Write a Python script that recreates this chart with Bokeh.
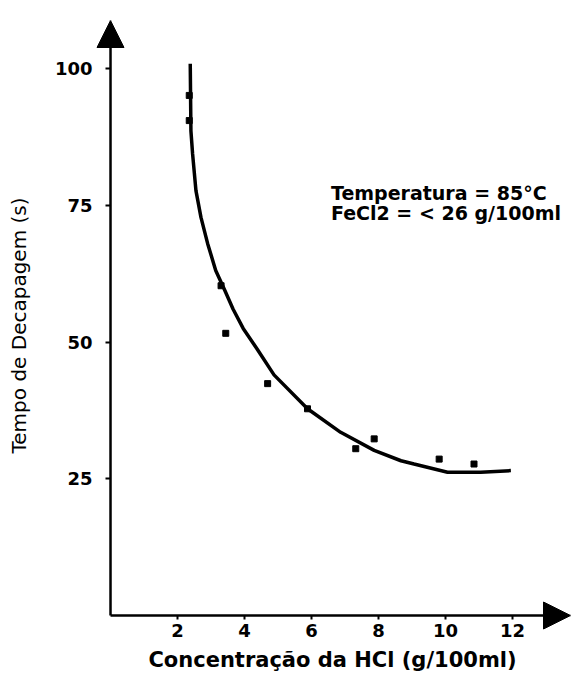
from bokeh.plotting import figure
from bokeh.models import Range1d, Arrow, NormalHead, Label, FixedTicker
from bokeh.embed import file_html
from bokeh.resources import INLINE

# measured data points (HCl concentration g/100ml, pickling time s)
conc_pts = [2.35, 2.35, 3.30, 3.44, 4.69, 5.88, 7.32, 7.87, 9.81, 10.85]
tempo_pts = [95.1, 90.5, 60.3, 51.6, 42.4, 37.8, 30.5, 32.3, 28.6, 27.7]

# fitted curve
fit_conc = [2.38, 2.40, 2.45, 2.55, 2.70, 2.90, 3.14, 3.40, 3.66, 3.96, 4.39,
            4.88, 5.88, 6.87, 7.87, 8.67, 9.06, 10.06, 11.05, 11.95]
fit_tempo = [100.9, 88.6, 84.4, 77.7, 72.8, 68.0, 63.1, 59.6, 56.0, 52.5, 48.6,
             44.0, 37.8, 33.5, 30.2, 28.3, 27.7, 26.2, 26.2, 26.5]

x_ticks = [2, 4, 6, 8, 10, 12]
y_ticks = [25, 50, 75, 100]

x_label = "Concentração da HCl (g/100ml)"
y_label = "Tempo de Decapagem (s)"
note_1 = "Temperatura = 85°C"
note_2 = "FeCl2 = < 26 g/100ml"

FONT = "DejaVu Sans"
X_END = 13.73
Y_END = 108.8

# frame extends a little left of x=0 and below y=0 so the arrow heads fit
p = figure(width=584, height=677, output_backend="svg", toolbar_location=None,
           x_range=Range1d(-0.478, X_END), y_range=Range1d(-2.74, Y_END),
           min_border_left=94, min_border_right=14, min_border_top=20,
           min_border_bottom=47)
p.outline_line_color = None
p.xgrid.visible = False
p.ygrid.visible = False
p.background_fill_color = "white"
p.border_fill_color = "white"

for ax, ticks in ((p.xaxis[0], x_ticks), (p.yaxis[0], y_ticks)):
    ax.ticker = FixedTicker(ticks=ticks)
    ax.axis_line_color = None
    ax.major_tick_line_color = "black"
    ax.major_tick_line_width = 2
    ax.major_tick_out = 0
    ax.minor_tick_line_color = None
    ax.major_label_text_font = FONT
    ax.major_label_text_font_size = "18px"
    ax.major_label_text_font_style = "bold"
    ax.major_label_text_color = "black"

# short tick marks that sit against the arrow lines
p.yaxis.major_tick_in = 16
p.yaxis.major_tick_line_dash = "0 11 5 100"
p.xaxis.major_tick_in = 15
p.xaxis.major_tick_line_dash = "0 11 4 100"

p.xaxis.major_label_standoff = -7
p.yaxis.major_label_standoff = 2

p.xaxis.axis_label = x_label
p.xaxis.axis_label_text_font = FONT
p.xaxis.axis_label_text_font_size = "21px"
p.xaxis.axis_label_text_font_style = "bold"
p.xaxis.axis_label_text_color = "black"
p.xaxis.axis_label_standoff = 8

p.yaxis.axis_label = y_label
p.yaxis.axis_label_text_font = FONT
p.yaxis.axis_label_text_font_size = "20px"
p.yaxis.axis_label_text_font_style = "normal"
p.yaxis.axis_label_text_color = "black"
p.yaxis.axis_label_standoff = 21

# axes drawn as arrows
p.add_layout(Arrow(x_start=0, y_start=0, x_end=X_END, y_end=0, line_width=2.5,
                   line_color="black",
                   end=NormalHead(size=27, fill_color="black", line_color="black")))
p.add_layout(Arrow(x_start=0, y_start=0, x_end=0, y_end=Y_END, line_width=2.5,
                   line_color="black",
                   end=NormalHead(size=27, fill_color="black", line_color="black")))

p.line(fit_conc, fit_tempo, line_width=3.5, line_color="black")
p.scatter(conc_pts, tempo_pts, marker="square", size=6, fill_color="black",
          line_color="black")

p.add_layout(Label(x=6.58, y=77.3, text=note_1, text_font=FONT,
                   text_font_style="bold", text_font_size="19px",
                   text_baseline="middle", text_color="black"))
p.add_layout(Label(x=6.58, y=73.6, text=note_2, text_font=FONT,
                   text_font_style="bold", text_font_size="19px",
                   text_baseline="middle", text_color="black"))

open("out.html", "w").write(file_html(p, INLINE))
